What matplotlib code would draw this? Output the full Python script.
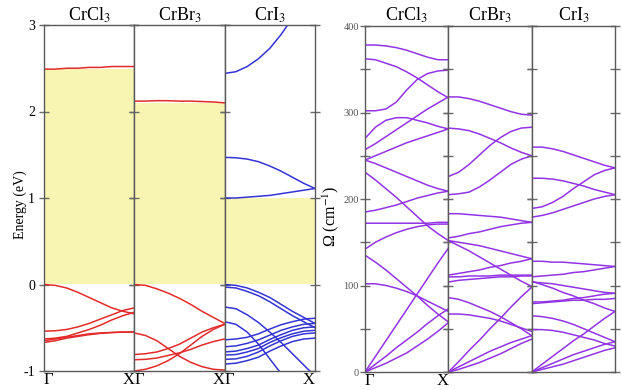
import matplotlib.pyplot as plt
from matplotlib.ticker import MultipleLocator

plt.rcParams['font.family'] = ['Liberation Serif', 'DejaVu Serif']
plt.rcParams['mathtext.fontset'] = 'stix'
plt.rcParams['axes.unicode_minus'] = False

# k path Gamma -> X
k = [0.0, 0.125, 0.25, 0.375, 0.5, 0.625, 0.75, 0.875, 1.0]
names = ['CrCl$_3$', 'CrBr$_3$', 'CrI$_3$']

# electronic bands (eV)
crcl3_cb = [[2.49, 2.49, 2.50, 2.50, 2.51, 2.51, 2.52, 2.52, 2.52]]
crcl3_vb = [
    [0.00, -0.01, -0.04, -0.09, -0.15, -0.21, -0.27, -0.31, -0.34],
    [-0.54, -0.535, -0.52, -0.49, -0.45, -0.40, -0.35, -0.30, -0.27],
    [-0.63, -0.62, -0.60, -0.56, -0.52, -0.47, -0.41, -0.36, -0.32],
    [-0.65, -0.63, -0.61, -0.59, -0.57, -0.56, -0.555, -0.55, -0.55],
    [-0.67, -0.65, -0.62, -0.60, -0.58, -0.565, -0.555, -0.55, -0.55],
]
crbr3_cb = [[2.12, 2.12, 2.125, 2.125, 2.12, 2.12, 2.115, 2.11, 2.10]]
crbr3_vb = [
    [0.00, -0.01, -0.05, -0.10, -0.16, -0.23, -0.31, -0.38, -0.45],
    [-0.56, -0.59, -0.65, -0.74, -0.83, -0.90, -0.95, -0.98, -0.99],
    [-0.81, -0.80, -0.78, -0.74, -0.69, -0.62, -0.55, -0.50, -0.46],
    [-0.87, -0.865, -0.85, -0.82, -0.79, -0.75, -0.70, -0.66, -0.63],
    [-1.00, -0.98, -0.94, -0.88, -0.80, -0.70, -0.60, -0.52, -0.46],
]
cri3_cb = [
    [1.00, 1.00, 1.01, 1.02, 1.03, 1.05, 1.07, 1.09, 1.11],
    [1.47, 1.465, 1.45, 1.42, 1.37, 1.31, 1.24, 1.17, 1.11],
    [2.44, 2.46, 2.52, 2.61, 2.73, 2.89, 3.08, 3.28, 3.50],
]
cri3_vb = [
    [0.00, -0.01, -0.04, -0.09, -0.15, -0.23, -0.31, -0.38, -0.45],
    [-0.03, -0.04, -0.08, -0.13, -0.20, -0.28, -0.36, -0.43, -0.50],
    [-0.26, -0.28, -0.35, -0.44, -0.55, -0.67, -0.80, -0.93, -1.06],
    [-0.43, -0.46, -0.55, -0.69, -0.86, -1.03, -1.20, -1.37, -1.54],
    [-0.64, -0.63, -0.61, -0.57, -0.515, -0.465, -0.43, -0.40, -0.39],
    [-0.72, -0.71, -0.68, -0.64, -0.585, -0.53, -0.49, -0.46, -0.45],
    [-0.78, -0.77, -0.74, -0.70, -0.635, -0.58, -0.53, -0.50, -0.49],
    [-0.815, -0.81, -0.78, -0.74, -0.67, -0.615, -0.57, -0.54, -0.53],
    [-0.865, -0.86, -0.83, -0.78, -0.71, -0.65, -0.60, -0.57, -0.56],
    [-0.92, -0.91, -0.88, -0.84, -0.77, -0.71, -0.66, -0.63, -0.62],
]

# phonon branches (cm^-1)
crcl3_ph = [
    [378, 378, 377, 375, 372, 368, 364, 361, 361],
    [362, 361, 357, 353, 347, 340, 332, 324, 317],
    [302, 302, 304, 312, 326, 338, 345, 348, 349],
    [270, 283, 291, 294, 294, 291, 288, 284, 281],
    [257, 264, 272, 280, 288, 296, 304, 311, 318],
    [245, 250, 255, 260, 265, 269, 273, 277, 281],
    [245, 241, 236, 231, 226, 221, 216, 212, 209],
    [231, 222, 212, 202, 191, 180, 169, 160, 152],
    [185, 187, 190, 193, 197, 201, 204, 207, 209],
    [172, 172, 172, 172, 172, 172, 172, 173, 173],
    [142, 150, 156, 161, 165, 168, 170, 171, 171],
    [135, 127, 118, 108, 98, 88, 77, 67, 58],
    [102, 102, 100, 97, 93, 88, 82, 76, 70],
    [0, 18, 36, 54, 72, 90, 108, 126, 143],
    [0, 9, 18, 28, 37, 46, 56, 65, 73],
    [0, 5, 10, 16, 22, 30, 38, 47, 57],
]
crbr3_ph = [
    [318, 318, 316, 313, 309, 305, 301, 298, 297],
    [282, 281, 279, 275, 270, 265, 259, 254, 250],
    [226, 231, 240, 251, 262, 271, 278, 282, 283],
    [205, 206, 208, 214, 222, 231, 240, 246, 250],
    [183, 183, 182, 181, 180, 179, 177, 175, 173],
    [155, 157, 160, 162, 165, 168, 170, 172, 173],
    [152, 150, 148, 146, 143, 140, 137, 134, 131],
    [152, 146, 140, 133, 126, 119, 112, 105, 99],
    [112, 114, 116, 118, 121, 123, 126, 128, 131],
    [110, 110, 111, 111, 111, 112, 112, 112, 112],
    [104, 106, 107, 108, 109, 110, 110, 111, 111],
    [86, 84, 80, 75, 70, 64, 57, 50, 42],
    [67, 67, 66, 64, 62, 59, 55, 51, 47],
    [0, 12, 25, 37, 50, 62, 75, 87, 98],
    [0, 6, 12, 18, 24, 29, 34, 38, 42],
    [0, 3, 7, 11, 16, 21, 27, 33, 38],
]
cri3_ph = [
    [260, 260, 258, 255, 251, 247, 243, 239, 236],
    [224, 224, 223, 221, 218, 215, 211, 208, 205],
    [189, 191, 196, 203, 212, 220, 228, 233, 236],
    [179, 181, 184, 188, 192, 196, 200, 203, 205],
    [128, 128, 127, 127, 126, 125, 124, 123, 122],
    [110, 111, 112, 113, 115, 116, 118, 120, 122],
    [104, 103, 102, 100, 98, 96, 94, 92, 91],
    [105, 101, 97, 92, 88, 83, 79, 74, 70],
    [79, 80, 81, 82, 83, 83, 84, 84, 85],
    [81, 81, 82, 83, 85, 86, 88, 90, 91],
    [65, 64, 62, 59, 55, 50, 45, 40, 35],
    [49, 49, 48, 46, 43, 40, 37, 33, 30],
    [0, 9, 18, 27, 36, 44, 53, 62, 70],
    [0, 5, 10, 15, 20, 24, 28, 32, 35],
    [0, 3, 6, 9, 13, 17, 21, 25, 28],
]

elec = [(crcl3_cb, crcl3_vb, '#e42a2a'),
        (crbr3_cb, crbr3_vb, '#e42a2a'),
        (cri3_cb, cri3_vb, '#3434d6')]
phon = [crcl3_ph, crbr3_ph, cri3_ph]

fig = plt.figure(figsize=(6.22, 3.9), dpi=100)
W, H = 622, 390


def box(x0, x1, ytop, ybot):
    return [x0 / W, 1 - ybot / H, (x1 - x0) / W, (ybot - ytop) / H]


def style(ax):
    for s in ax.spines.values():
        s.set_color('#5a5a5a')
        s.set_linewidth(1.0)
    for which in ('major', 'minor'):
        ax.tick_params(axis='y', which=which, direction='inout', length=7,
                       width=1.0, color='#6a6a6a', left=True, right=True)
    ax.tick_params(axis='x', length=0, pad=1, labelsize=12)


def gamma_x(ax):
    ax.set_xticks([0, 1])
    ax.set_xticklabels(['Γ', 'X'])
    ax.get_xticklabels()[0].set_ha('left')
    ax.get_xticklabels()[1].set_ha('right')


# electronic structure
ex = [44, 134.3, 224.6, 315]
for i, (cb, vb, col) in enumerate(elec):
    ax = fig.add_axes(box(ex[i], ex[i + 1], 25, 371))
    gap_top = min(min(b) for b in cb)
    ax.fill_between([0, 1], 0, gap_top, color='#f8f4b2', lw=0, zorder=0)
    for b in cb + vb:
        ax.plot(k, b, color=col, lw=1.1)
    ax.set_xlim(0, 1)
    ax.set_ylim(-1, 3)
    ax.set_yticks([-1, 0, 1, 2, 3])
    style(ax)
    gamma_x(ax)
    ax.set_title(names[i], fontsize=13, pad=2)
    if i == 0:
        ax.tick_params(axis='y', labelsize=10, pad=3)
        ax.set_ylabel('Energy (eV)', fontsize=10, va='center')
        ax.yaxis.set_label_coords(-0.265, 0.48)
    else:
        ax.set_yticklabels([])

# phonon dispersion
px = [365, 448.3, 531.7, 615]
for i, br in enumerate(phon):
    ax = fig.add_axes(box(px[i], px[i + 1], 26, 372))
    for b in br:
        ax.plot(k, b, color='#9234e6', lw=1.1)
    ax.set_xlim(0, 1)
    ax.set_ylim(0, 400)
    ax.yaxis.set_major_locator(MultipleLocator(100))
    ax.yaxis.set_minor_locator(MultipleLocator(50))
    style(ax)
    ax.set_title(names[i], fontsize=13, pad=4)
    if i == 0:
        gamma_x(ax)
        ax.tick_params(axis='y', labelsize=7.5, labelcolor='#555555', pad=1)
        ax.set_ylabel('Ω (cm$^{-1}$)', fontsize=11.5, va='center')
        ax.yaxis.set_label_coords(-0.41, 0.45)
    else:
        ax.set_xticks([])
        ax.set_yticklabels([])

fig.savefig('out.png', dpi=100)
